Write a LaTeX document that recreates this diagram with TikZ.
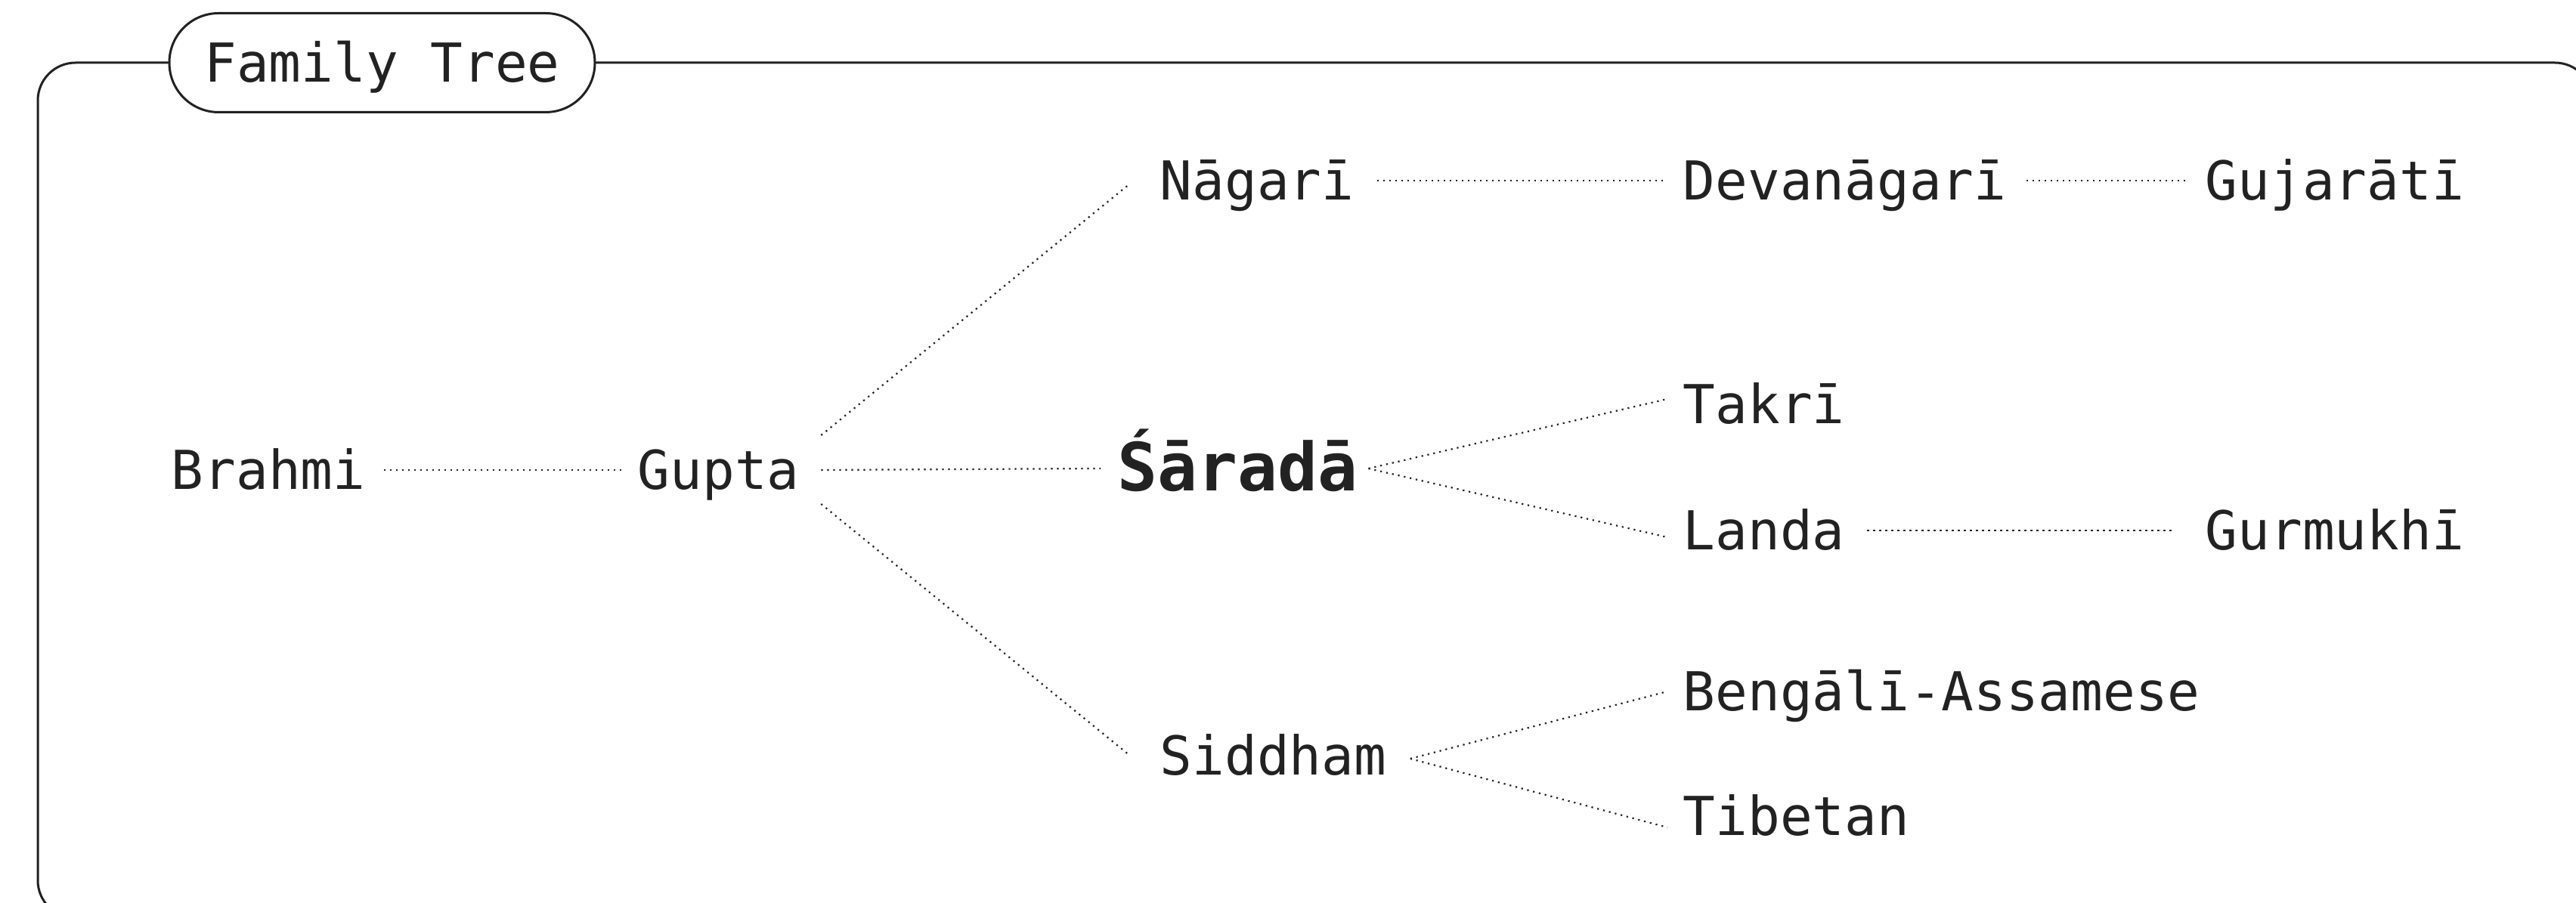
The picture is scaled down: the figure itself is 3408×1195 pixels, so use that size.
\documentclass[tikz,border=0pt]{standalone}
\usepackage{fontspec}
\newfontfamily\plexmono{DejaVu Sans Mono}
\definecolor{ink}{HTML}{222222}
\begin{document}
\begin{tikzpicture}[x=0.25pt,y=-0.25pt,
  lbl/.style={inner sep=0pt, text height=13pt, text depth=0pt, anchor=base west,
    font=\plexmono\fontsize{17.75}{20}\selectfont, text=ink},
  mainlbl/.style={lbl, text height=16pt, font=\plexmono\bfseries\fontsize{22}{26}\selectfont},
  link/.style={draw=ink, line width=0.55pt, dash pattern=on 0.55pt off 1.45pt},
  frameline/.style={draw=ink, line width=0.75pt}]
\useasboundingbox (0,0) rectangle (3408,1195);
\begin{scope}
  \clip (0,0) rectangle (3408,1195);
  \draw[frameline, rounded corners=12.5pt] (50,83) rectangle (3430,1215);
\end{scope}
\node[frameline, fill=white, rounded corners=16.3pt, minimum width=140.75pt,
  minimum height=32.75pt, inner sep=0pt, text height=13pt, text depth=0pt,
  font=\plexmono\fontsize{17.75}{20}\selectfont, text=ink] (title) at (505.5,83) {Family Tree};

% nodes
\node[lbl] (brahmi) at (226,648) {Brahmi};
\node[lbl] (gupta) at (843,648) {Gupta};
\node[mainlbl] (sarada) at (1478,650) {Śāradā};
\node[lbl] (nagari) at (1534,265) {Nāgarī};
\node[lbl] (siddham) at (1534,1026) {Siddham};
\node[lbl] (devanagari) at (2226,265) {Devanāgarī};
\node[lbl] (gujarati) at (2917,265) {Gujarātī};
\node[lbl] (takri) at (2226,561) {Takrī};
\node[lbl] (landa) at (2226,728) {Landa};
\node[lbl] (gurmukhi) at (2917,728) {Gurmukhī};
\node[lbl] (bengali) at (2226,941) {Bengālī-Assamese};
\node[lbl] (tibetan) at (2226,1106) {Tibetan};

% connectors
\draw[link] ([shift={(24,0)}]brahmi.east) -- ([shift={(-15,0)}]gupta.west);
\draw[link] ([shift={(28,-46)}]gupta.east) -- ([shift={(-39,4)}]nagari.west);
\draw[link] ([shift={(28,0)}]gupta.east) -- ([shift={(-22,2)}]sarada.west);
\draw[link] ([shift={(28,45)}]gupta.east) -- ([shift={(-39,0)}]siddham.west);
\draw[link] ([shift={(30,0)}]nagari.east) -- ([shift={(-26,0)}]devanagari.west);
\draw[link] ([shift={(26,0)}]devanagari.east) -- ([shift={(-24,0)}]gujarati.west);
\draw[link] ([shift={(13,2)}]sarada.east) -- ([shift={(-20,-7)}]takri.west);
\draw[link] ([shift={(13,2)}]sarada.east) -- ([shift={(-20,9)}]landa.west);
\draw[link] ([shift={(29,0)}]landa.east) -- ([shift={(-42,0)}]gurmukhi.west);
\draw[link] ([shift={(31,4)}]siddham.east) -- ([shift={(-20,0)}]bengali.west);
\draw[link] ([shift={(31,4)}]siddham.east) -- ([shift={(-20,15)}]tibetan.west);
\end{tikzpicture}
\end{document}
